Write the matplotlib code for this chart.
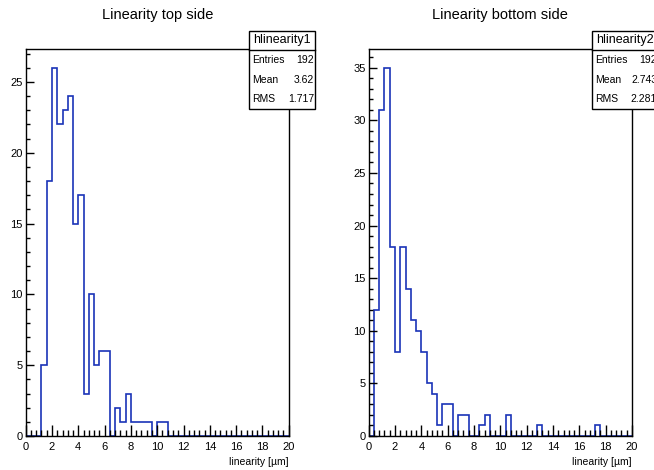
import numpy as np
import matplotlib
matplotlib.use('Agg')
import matplotlib.pyplot as plt
from matplotlib.patches import Rectangle
from matplotlib.ticker import MultipleLocator

plt.rcParams['font.family'] = ['Liberation Sans', 'DejaVu Sans']

# 50 bins of 0.4 um between 0 and 20
edges = np.linspace(0, 20, 51)

top_counts = [0, 0, 0, 5, 18, 26, 22, 23, 24, 15, 17, 3, 10, 5, 6, 6, 0, 2, 1, 3,
              1, 1, 1, 1, 0, 1, 1] + [0] * 23
bottom_counts = [0, 12, 31, 35, 18, 8, 18, 14, 11, 10, 8, 5, 4, 1, 3, 3, 0, 2, 2, 0,
                 0, 1, 2, 0, 0, 0, 2, 0, 0, 0, 0, 0, 1, 0, 0, 0, 0, 0, 0, 0,
                 0, 0, 0, 1, 0, 0, 0, 0, 0, 0]

titles = ['Linearity top side', 'Linearity bottom side']
names = ['hlinearity1', 'hlinearity2']
stats = [('192', '3.62', '1.717'), ('192', '2.743', '2.281')]
xlabel = 'linearity [\u00b5m]'

W, H = 654, 470
fig = plt.figure(figsize=(W / 100, H / 100), dpi=100)

ax_px = [(25.7, 49.3, 288.7, 436), (368.7, 49.3, 632, 436)]
box_px = [249, 592]
col = '#1a33b8'

for i, counts in enumerate([top_counts, bottom_counts]):
    x0, y0, x1, y1 = ax_px[i]
    ax = fig.add_axes([x0 / W, 1 - y1 / H, (x1 - x0) / W, (y1 - y0) / H])
    ax.stairs(counts, edges, color=col, linewidth=1.2)
    ax.set_xlim(0, 20)
    ax.set_ylim(0, max(counts) * 1.05)
    ax.xaxis.set_major_locator(MultipleLocator(2))
    ax.xaxis.set_minor_locator(MultipleLocator(0.4))
    ax.yaxis.set_major_locator(MultipleLocator(5))
    ax.yaxis.set_minor_locator(MultipleLocator(1))
    ax.tick_params(axis='x', which='major', direction='in', length=8, width=1,
                   labelsize=8, pad=4, top=False)
    ax.tick_params(axis='x', which='minor', direction='in', length=4, width=1, top=False)
    ax.tick_params(axis='y', which='major', direction='in', length=6, width=1,
                   labelsize=8, pad=2, right=False)
    ax.tick_params(axis='y', which='minor', direction='in', length=3, width=1, right=False)
    for s in ax.spines.values():
        s.set_linewidth(1)
    ax.set_xlabel(xlabel, fontsize=7.5, loc='right', labelpad=4)
    fig.text((x0 + x1) / 2 / W, 1 - 15 / H, titles[i], ha='center', va='center', fontsize=10.5)

    # stats box
    bx = box_px[i]
    bw, top, sep, bot = 66, 31, 50, 109
    fig.patches.append(Rectangle((bx / W, 1 - bot / H), bw / W, (bot - top) / H,
                                 transform=fig.transFigure, facecolor='white',
                                 edgecolor='black', linewidth=1))
    fig.add_artist(plt.Line2D([bx / W, (bx + bw) / W], [1 - sep / H, 1 - sep / H],
                              transform=fig.transFigure, color='black', linewidth=1))
    fig.text((bx + bw / 2) / W, 1 - 40.5 / H, names[i], ha='center', va='center', fontsize=9)
    for lab, val, yy in zip(['Entries', 'Mean', 'RMS'], stats[i], [60, 80, 99]):
        fig.text((bx + 3) / W, 1 - yy / H, lab, ha='left', va='center', fontsize=7.5)
        fig.text((bx + bw - 1) / W, 1 - yy / H, val, ha='right', va='center', fontsize=7.5)

fig.savefig('out.png', dpi=100)
